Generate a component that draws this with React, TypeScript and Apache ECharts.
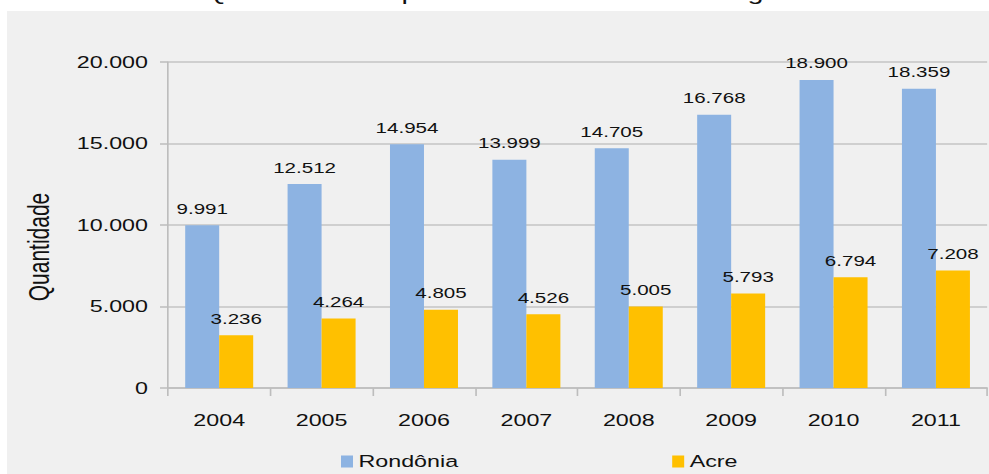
import React, { useEffect, useRef } from "react";
import * as echarts from "echarts";

const years = ["2004", "2005", "2006", "2007", "2008", "2009", "2010", "2011"];
const rondonia = [9991, 12512, 14954, 13999, 14705, 16768, 18900, 18359];
const acre = [3236, 4264, 4805, 4526, 5005, 5793, 6794, 7208];
const titleText = "Quantidade de processos recebidos no 1º grau";
const yAxisName = "Quantidade";

const FONT = "'Liberation Sans', Arial, sans-serif";
// the reference picture is stretched horizontally; render narrower and stretch
const S = 1.37;
const W = 989 / S;
const fmt = (v: number) => {
  const s = String(Math.round(v));
  return s.replace(/\B(?=(\d{3})+(?!\d))/g, ".");
};

export default function App() {
  const ref = useRef<HTMLDivElement>(null);
  useEffect(() => {
    if (!ref.current) return;
    const chart = echarts.init(ref.current, null, { renderer: "svg" });
    chart.setOption({
      animation: false,
      backgroundColor: "#ffffff",
      textStyle: { fontFamily: FONT },
      graphic: [
        {
          type: "rect",
          z: -10,
          silent: true,
          shape: { x: 7 / S, y: 11, width: 982 / S, height: 463 },
          style: { fill: "#f0f0f0" },
        },
        {
          type: "text",
          x: 505 / S,
          y: -18,
          style: {
            text: titleText,
            fontSize: 21,
            fontFamily: FONT,
            fill: "#111",
            align: "center",
            verticalAlign: "top",
          },
        },
        {
          type: "text",
          x: 39 / S,
          y: 247,
          rotation: Math.PI / 2,
          style: {
            text: yAxisName,
            fontSize: 21,
            fontFamily: FONT,
            fill: "#111",
            align: "center",
            verticalAlign: "middle",
          },
        },
      ],
      grid: { left: 168 / S, right: 2 / S, top: 62, bottom: 86, containLabel: false },
      legend: {
        left: 341 / S,
        top: 453,
        padding: 0,
        itemWidth: 12 / S,
        itemHeight: 12,
        itemGap: 214 / S,
        icon: "rect",
        textStyle: { fontSize: 17, color: "#111", fontFamily: FONT, padding: [0, 0, 0, -1] },
        data: ["Rondônia", "Acre"],
      },
      xAxis: {
        type: "category",
        data: years,
        axisLine: { lineStyle: { color: "#bdbdbd", width: 1.5 } },
        axisTick: { show: true, length: 8, lineStyle: { color: "#bdbdbd", width: 1.2 } },
        axisLabel: { fontSize: 17, color: "#111", margin: 24, fontFamily: FONT },
      },
      yAxis: {
        type: "value",
        min: 0,
        max: 20000,
        interval: 5000,
        axisLine: { show: true, lineStyle: { color: "#bdbdbd", width: 1.2 } },
        axisTick: { show: true, length: 8 / S, lineStyle: { color: "#bdbdbd", width: 1.5 } },
        splitLine: { lineStyle: { color: "#c4c4c4", width: 1.5 } },
        axisLabel: {
          fontSize: 17,
          color: "#111",
          margin: 20 / S,
          fontFamily: FONT,
          formatter: (v: number) => fmt(v),
        },
      },
      series: [
        {
          name: "Rondônia",
          type: "bar",
          data: rondonia,
          barWidth: 34 / S,
          barGap: "0%",
          itemStyle: { color: "#8db3e2" },
          label: {
            show: true,
            position: "top",
            distance: 9,
            fontSize: 15,
            color: "#111",
            fontFamily: FONT,
            formatter: (p: any) => fmt(p.value),
          },
        },
        {
          name: "Acre",
          type: "bar",
          data: acre,
          barWidth: 34 / S,
          barGap: "0%",
          itemStyle: { color: "#ffc000" },
          label: {
            show: true,
            position: "top",
            distance: 9,
            fontSize: 15,
            color: "#111",
            fontFamily: FONT,
            formatter: (p: any) => fmt(p.value),
          },
        },
      ],
    });
    return () => chart.dispose();
  }, []);
  return (
    <div style={{ position: "fixed", left: 0, top: 0, width: 989, height: 474, overflow: "hidden", background: "#fff" }}>
      <div
        ref={ref}
        style={{
          width: W,
          height: 474,
          transform: `scaleX(${S})`,
          transformOrigin: "0 0",
        }}
      />
    </div>
  );
}
